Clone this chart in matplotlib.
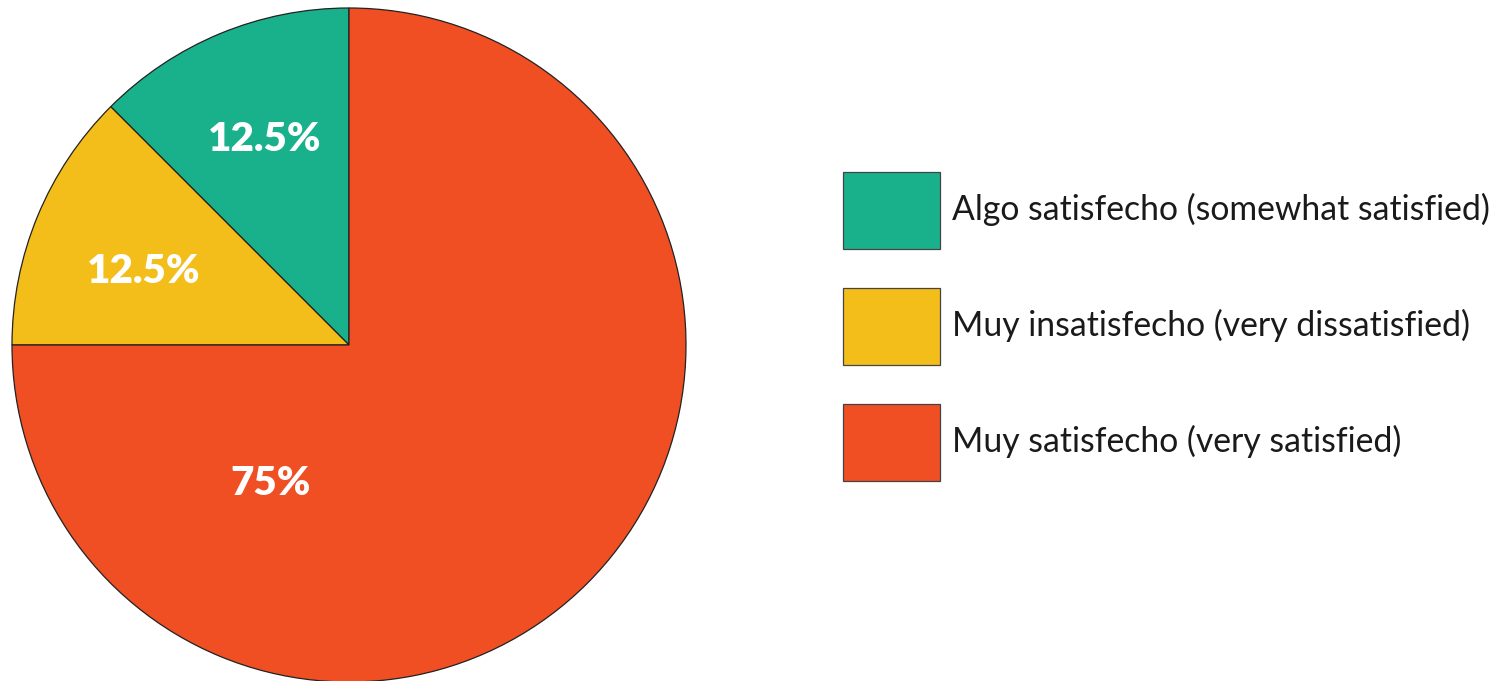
import matplotlib
matplotlib.use("Agg")
import matplotlib.pyplot as plt
from matplotlib.patches import Patch

categories = ["Algo satisfecho (somewhat satisfied)",
              "Muy insatisfecho (very dissatisfied)",
              "Muy satisfecho (very satisfied)"]
shares = [12.5, 12.5, 75]
label_texts = ["12.5%", "12.5%", "75%"]
colors = ["#19B18B", "#F4BE1A", "#F04E23"]

plt.rcParams["font.family"] = ["Lato", "DejaVu Sans"]

W, H = 1493, 681
fig = plt.figure(figsize=(W / 100, H / 100), dpi=100)

# pie area: centre (349, 345) px, radius 337 px
cx, cy, r = 349, 345, 337
ax = fig.add_axes([(cx - r) / W, (H - cy - r) / H, 2 * r / W, 2 * r / H])
ax.set_xlim(-1, 1)
ax.set_ylim(-1, 1)
ax.set_aspect("equal")

ax.pie(shares, colors=colors, startangle=90, counterclock=True,
       radius=1, center=(0, 0), frame=True,
       wedgeprops=dict(edgecolor="#222222", linewidth=0.9))
ax.axis("off")

# label positions in pie units
label_pos = [(-0.25, 0.61), (-0.61, 0.218), (-0.234, -0.41)]
for (x, y), t in zip(label_pos, label_texts):
    ax.text(x, y, t, ha="center", va="center", color="white",
            fontsize=29, fontweight="heavy")

handles = [Patch(facecolor=c, edgecolor="#444444", linewidth=0.9) for c in colors]
fs = 24.3
fs_px = fs * 100 / 72
box_w, box_h, gap = 97, 77, 39
# legend handle height = fs * (0.65 * handleheight + 0.245)
hh = (box_h / fs_px - 0.245) / 0.65
fig.legend(handles, categories, loc="center left",
           bbox_to_anchor=(843 / W, (H - 326.5) / H),
           frameon=False, fontsize=fs, borderpad=0, borderaxespad=0,
           handlelength=box_w / fs_px, handleheight=hh,
           labelspacing=gap / fs_px, handletextpad=12 / fs_px,
           labelcolor="#1a1a1a")

fig.savefig("out.png", dpi=100)
